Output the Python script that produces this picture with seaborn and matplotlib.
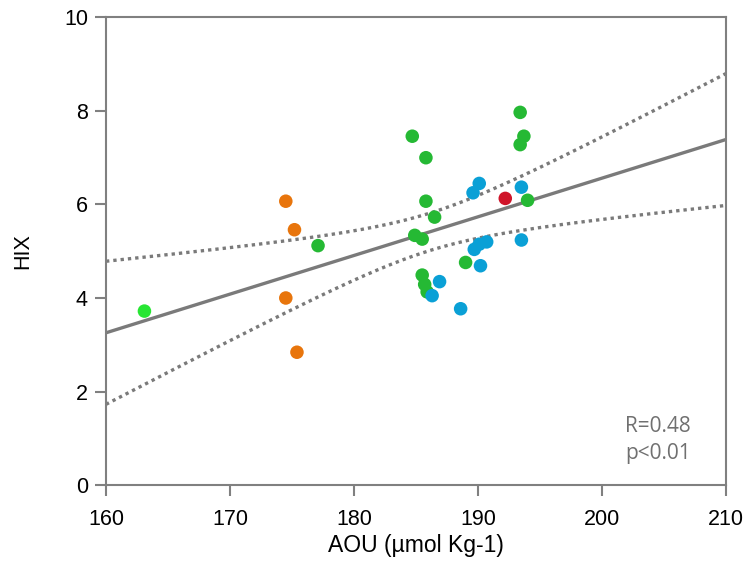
import numpy as np
import pandas as pd
import matplotlib
matplotlib.use("Agg")
import matplotlib.pyplot as plt
import seaborn as sns

# AOU (µmol Kg-1) and HIX per sample, grouped by water mass
aou_lightgreen = [163.1]
hix_lightgreen = [3.72]

aou_orange = [174.5, 175.2, 174.5, 175.4]
hix_orange = [6.07, 5.46, 4.00, 2.84]

aou_green = [177.1, 184.7, 185.8, 193.4, 193.7, 193.4, 185.8, 186.5, 194.0,
             184.9, 185.5, 189.0, 185.5, 185.7, 185.9]
hix_green = [5.12, 7.46, 7.00, 7.97, 7.46, 7.28, 6.07, 5.73, 6.09,
             5.34, 5.26, 4.76, 4.49, 4.29, 4.13]

aou_blue = [190.1, 189.6, 193.5, 193.5, 189.7, 190.1, 190.7, 190.2, 186.9,
            186.3, 188.6]
hix_blue = [6.45, 6.25, 6.37, 5.24, 5.04, 5.15, 5.20, 4.69, 4.35,
            4.05, 3.77]

aou_red = [192.2]
hix_red = [6.13]

stat_lines = ["R=0.48", "p<0.01"]

groups = {
    "lightgreen": (aou_lightgreen, hix_lightgreen),
    "orange": (aou_orange, hix_orange),
    "green": (aou_green, hix_green),
    "blue": (aou_blue, hix_blue),
    "red": (aou_red, hix_red),
}
palette = {
    "lightgreen": "#27e633",
    "orange": "#e8750c",
    "green": "#25b934",
    "blue": "#0aa0d6",
    "red": "#cf1429",
}

df = pd.concat(
    [pd.DataFrame({"AOU": a, "HIX": h, "group": g}) for g, (a, h) in groups.items()],
    ignore_index=True,
)

sns.set_theme(style="ticks")
plt.rcParams["font.family"] = ["Liberation Sans", "DejaVu Sans"]

fig = plt.figure(figsize=(7.48, 5.63), dpi=100)
ax = fig.add_axes([0.1417, 0.1385, 0.8289, 0.8305])

# Least-squares fit with 95% confidence band of the mean response
x = df["AOU"].to_numpy()
y = df["HIX"].to_numpy()
n = len(x)
slope, intercept = np.polyfit(x, y, 1)
resid = y - (slope * x + intercept)
s = np.sqrt(np.sum(resid ** 2) / (n - 2))
sxx = np.sum((x - x.mean()) ** 2)
t95 = 2.042
xs = np.linspace(160, 210, 200)
fit = slope * xs + intercept
half = t95 * s * np.sqrt(1.0 / n + (xs - x.mean()) ** 2 / sxx)

line_col = "#7a7a7a"
ax.plot(xs, fit, color=line_col, lw=2.4, solid_capstyle="butt", zorder=1)
for band in (fit + half, fit - half):
    ax.plot(xs, band, color=line_col, lw=2.4, linestyle=(0, (1, 1.2)),
            dash_capstyle="butt", zorder=1)

sns.scatterplot(data=df, x="AOU", y="HIX", hue="group", palette=palette,
                s=95, linewidth=0, legend=False, ax=ax, zorder=3)

ax.set_xlim(160, 210)
ax.set_ylim(0, 10)
ax.set_xticks([160, 170, 180, 190, 200, 210])
ax.set_yticks([0, 2, 4, 6, 8, 10])
ax.set_xlabel("AOU (µmol Kg-1)", fontsize=16.5, color="black", labelpad=3)
ax.set_ylabel("HIX", fontsize=15.5, color="black", labelpad=22)

spine_col = "#808080"
for side in ax.spines.values():
    side.set_color(spine_col)
    side.set_linewidth(1.5)
ax.tick_params(axis="x", which="major", length=8, width=1.5,
               color=spine_col, labelsize=15.5, labelcolor="black", pad=9)
ax.tick_params(axis="y", which="major", length=8, width=1.5,
               color=spine_col, labelsize=15.5, labelcolor="black", pad=5)

ax.text(0.837, 0.114, stat_lines[0], transform=ax.transAxes,
        fontsize=15, color="#707070", family=["Open Sans", "DejaVu Sans"],
        ha="left", va="baseline")
ax.text(0.837, 0.056, stat_lines[1], transform=ax.transAxes,
        fontsize=15, color="#707070", family=["Open Sans", "DejaVu Sans"],
        ha="left", va="baseline")

fig.savefig("out.png", dpi=100, facecolor="white")
